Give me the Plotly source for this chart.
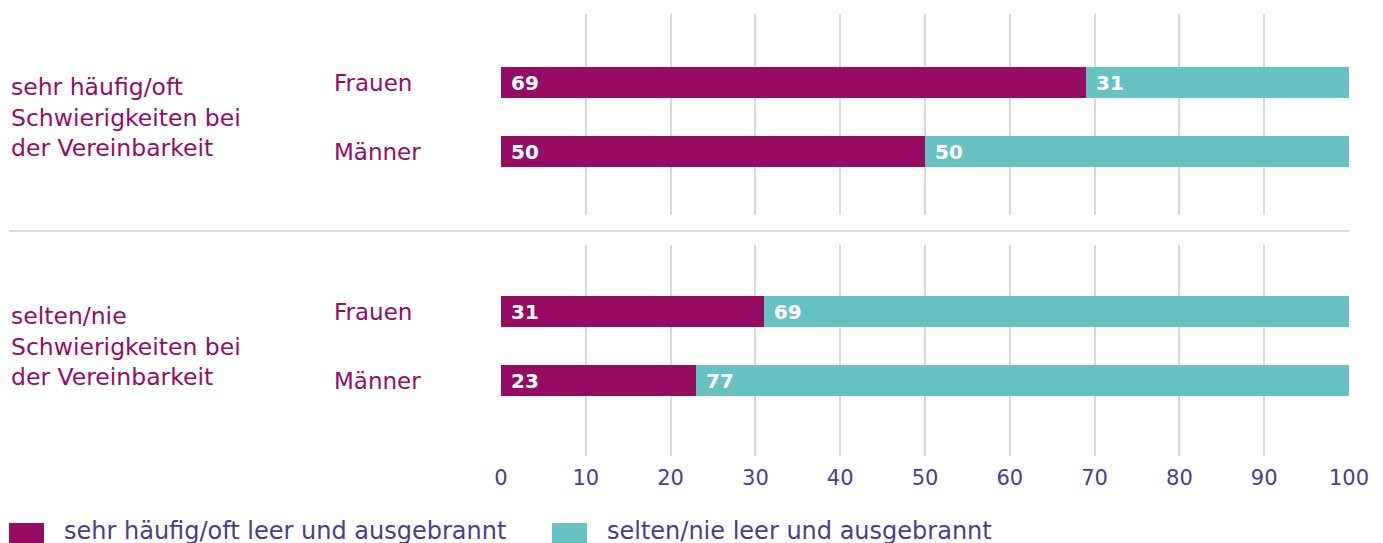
import plotly.graph_objects as go

# ---- data ----
groups = ["sehr häufig/oft<br>Schwierigkeiten bei<br>der Vereinbarkeit",
          "selten/nie<br>Schwierigkeiten bei<br>der Vereinbarkeit"]
genders = ["Männer", "Frauen"]
often_burnout = [[50, 69], [23, 31]]      # sehr häufig/oft leer und ausgebrannt
rarely_burnout = [[50, 31], [77, 69]]     # selten/nie leer und ausgebrannt
series_names = ["sehr häufig/oft leer und ausgebrannt", "selten/nie leer und ausgebrannt"]
x_ticks = [0, 10, 20, 30, 40, 50, 60, 70, 80, 90, 100]

MAGENTA = "#960b64"
TEAL = "#67c3c2"
TICK = "#4a3c8f"
FONT = "DejaVu Sans"

OFF = 8  # page body margin
W, H = 1383 - OFF, 543 - OFF
ML = 501 - OFF
MT = 14 - OFF
MR = W - (1349 - OFF)
MB = H - (456 - OFF)
PW = W - ML - MR
PH = H - MT - MB

def py(pix):  # reference window pixel -> paper y
    return (H - MB - (pix - OFF)) / PH

def px(pix):  # reference window pixel -> paper x
    return (pix - OFF - ML) / PW

fig = go.Figure()
yaxes = ["y", "y2"]
for gi in range(2):
    for vals, col, name in ((often_burnout[gi], MAGENTA, series_names[0]),
                            (rarely_burnout[gi], TEAL, series_names[1])):
        fig.add_trace(go.Bar(
            x=vals, y=genders, orientation="h", name=name,
            marker=dict(color=col, line=dict(width=0)),
            width=0.45,
            text=vals, texttemplate="\u00a0%{x}",
            textposition="inside", insidetextanchor="start", textangle=0,
            textfont=dict(family=FONT, size=20, color="white", weight="bold"),
            xaxis="x" if gi == 0 else "x2", yaxis=yaxes[gi],
            showlegend=False, hoverinfo="skip",
        ))

grid = dict(showgrid=True, gridcolor="#d9d9d9", gridwidth=1.5, zeroline=False,
            range=[0, 100], tickvals=x_ticks, fixedrange=True)
fig.update_layout(
    width=W, height=H, barmode="stack",
    margin=dict(l=ML, r=MR, t=MT, b=MB),
    plot_bgcolor="white", paper_bgcolor="white",
    font=dict(family=FONT),
    xaxis=dict(**grid, anchor="y", showticklabels=False),
    xaxis2=dict(**grid, anchor="y2", matches="x", showticklabels=True,
                ticks="outside", ticklen=0, ticklabelstandoff=3,
                tickfont=dict(family=FONT, size=21, color=TICK)),
    yaxis=dict(domain=[py(215), py(14)], range=[-0.92, 1.993],
               showticklabels=False, showgrid=False, zeroline=False, type="category"),
    yaxis2=dict(domain=[py(456), py(245)], range=[-1.094, 1.964],
                showticklabels=False, showgrid=False, zeroline=False, type="category"),
)

# category labels and group labels
for gi, ya in enumerate(yaxes):
    for g in genders:
        fig.add_annotation(text=g, x=px(332), xref="paper", y=g, yref=ya,
                           xanchor="left", yanchor="middle", showarrow=False,
                           font=dict(family=FONT, size=23, color=MAGENTA))
    fig.add_annotation(text=groups[gi], x=px(9), xref="paper", y=0.5, yref=ya,
                       xanchor="left", yanchor="middle", align="left", showarrow=False,
                       font=dict(family=FONT, size=23.5, color=MAGENTA, weight=500))

# separator line
fig.add_shape(type="line", xref="paper", yref="paper", x0=px(9), x1=px(1349),
              y0=py(231), y1=py(231), line=dict(color="#cccccc", width=1.5))

# legend (custom)
legend_items = [(9, 62, MAGENTA, series_names[0]), (552, 605, TEAL, series_names[1])]
for sx, tx, col, name in legend_items:
    fig.add_shape(type="rect", xref="paper", yref="paper", x0=px(sx), x1=px(sx + 35),
                  y0=py(560), y1=py(523), fillcolor=col, line=dict(width=0))
    fig.add_annotation(text=name, x=px(tx), xref="paper", y=py(531), yref="paper",
                       xanchor="left", yanchor="middle", showarrow=False,
                       font=dict(family=FONT, size=24, color=TICK))

fig.write_html("out.html")
